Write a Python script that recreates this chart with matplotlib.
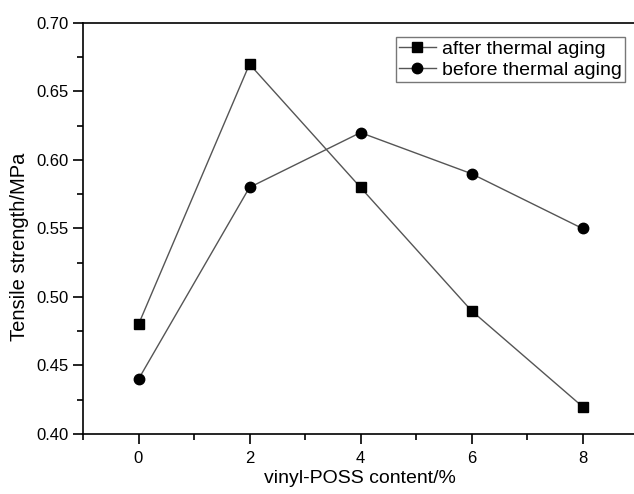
import matplotlib
matplotlib.use("Agg")
import matplotlib.pyplot as plt
from matplotlib.ticker import MultipleLocator, FormatStrFormatter

plt.rcParams['font.family'] = ['Liberation Sans', 'DejaVu Sans']

content = [0, 2, 4, 6, 8]
after_aging = [0.48, 0.67, 0.58, 0.49, 0.42]
before_aging = [0.44, 0.58, 0.62, 0.59, 0.55]
labels = ["after thermal aging", "before thermal aging"]

fig = plt.figure(figsize=(6.34, 4.94), dpi=100)
ax = fig.add_axes([83/634, 60/494, 555/634, 411/494])

ax.plot(content, after_aging, color='#555555', lw=1.0, marker='s', ms=6.5,
        mfc='black', mec='black', label=labels[0])
ax.plot(content, before_aging, color='#555555', lw=1.0, marker='o', ms=7.5,
        mfc='black', mec='black', label=labels[1])

ax.set_xlim(-1, 9)
ax.set_ylim(0.40, 0.70)
ax.xaxis.set_major_locator(MultipleLocator(2))
ax.xaxis.set_minor_locator(MultipleLocator(1))
ax.yaxis.set_major_locator(MultipleLocator(0.05))
ax.yaxis.set_minor_locator(MultipleLocator(0.025))
ax.yaxis.set_major_formatter(FormatStrFormatter('%.2f'))

ax.spines['right'].set_visible(False)
for s in ['left', 'bottom', 'top']:
    ax.spines[s].set_linewidth(1.2)

ax.tick_params(which='major', direction='out', length=7, width=1.2,
               labelsize=12, top=False, right=False)
ax.tick_params(axis='x', which='major', pad=5)
ax.tick_params(which='minor', direction='out', length=4, width=1.2,
               top=False, right=False)

ax.set_xlabel("vinyl-POSS content/%", fontsize=14)
ax.xaxis.set_label_coords(0.499, -0.088)
ax.set_ylabel("Tensile strength/MPa", fontsize=14.5)
ax.yaxis.set_label_coords(-0.115, 0.455)
ax.yaxis.label.set_va('center')

leg = ax.legend(loc='upper right', bbox_to_anchor=(0.977, 0.966), fontsize=14,
                frameon=True, fancybox=False, edgecolor='#555555',
                handlelength=1.9, handletextpad=0.35, borderpad=0.15,
                labelspacing=0.2, borderaxespad=0)
leg.get_frame().set_linewidth(1.0)

fig.savefig("out.png", dpi=100)
